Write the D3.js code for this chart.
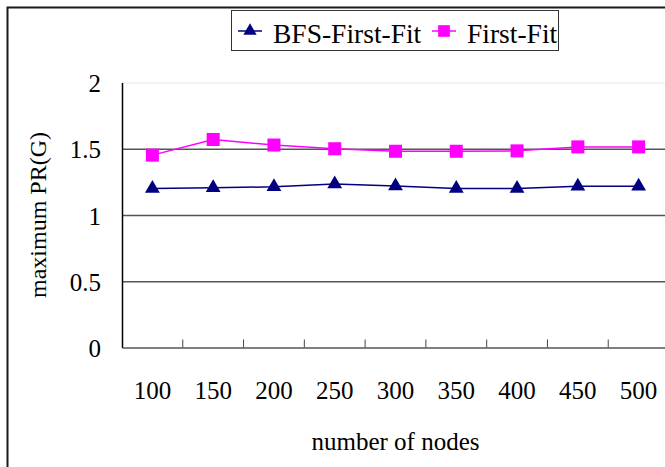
<!DOCTYPE html>
<html>
<head>
<meta charset="utf-8">
<script src="https://cdn.jsdelivr.net/npm/d3@7"></script>
<style>
  body { margin: 0; background: #fff; }
  svg text { font-family: "Liberation Serif", "Times New Roman", serif; fill: #000; }
</style>
</head>
<body>
<div id="chart"></div>
<script>
// data
var nodes = ["100", "150", "200", "250", "300", "350", "400", "450", "500"];
var bfsFirstFit = [1.20, 1.205, 1.213, 1.234, 1.219, 1.20, 1.20, 1.217, 1.217];
var firstFit = [1.452, 1.570, 1.528, 1.500, 1.481, 1.481, 1.484, 1.514, 1.514];
var yTicks = [0, 0.5, 1, 1.5, 2];

var w = 665, h = 467;
var plot = {left: 122, right: 669, top: 82.5, bottom: 347.5};

var svg = d3.select("#chart")
            .append("svg")
            .attr("width", w)
            .attr("height", h);

// outer frame (runs off the right and bottom edges)
svg.append("rect")
   .attr("x", 7.5)
   .attr("y", 7.5)
   .attr("width", 720)
   .attr("height", 520)
   .attr("fill", "#fff")
   .attr("stroke", "#1a1a1a")
   .attr("stroke-width", 2);

// scales
var xScale = d3.scaleBand()
               .domain(nodes)
               .range([plot.left, plot.right]);

var yScale = d3.scaleLinear()
               .domain([0, 2])
               .range([plot.bottom, plot.top]);

// gridlines
var grid = svg.append("g")
   .attr("transform", "translate(" + plot.left + ",0)")
   .call(d3.axisLeft(yScale)
           .tickValues(yTicks.slice(1))
           .tickSize(-(plot.right - plot.left))
           .tickFormat(""));
grid.select(".domain").remove();
grid.selectAll(".tick line")
    .attr("stroke", (d) => d === 2 ? "#e6e6e6" : "#555")
    .attr("stroke-width", (d) => d === 2 ? 1 : 1.5);

// y axis
var yAxis = svg.append("g")
   .attr("transform", "translate(" + plot.left + ",0)")
   .call(d3.axisLeft(yScale)
           .tickValues(yTicks)
           .tickSize(0)
           .tickPadding(21)
           .tickFormat(d3.format("")));
yAxis.select(".domain").attr("stroke", "#000").attr("stroke-width", 1.5);
yAxis.selectAll("text").style("font-size", "25px").attr("dy", "0.36em");

// x axis
var xAxis = svg.append("g")
   .attr("transform", "translate(0," + plot.bottom + ")")
   .call(d3.axisBottom(xScale).tickSize(0).tickPadding(34));
xAxis.select(".domain").attr("stroke", "#555").attr("stroke-width", 1.5);
xAxis.selectAll("text").style("font-size", "25px");

// category boundary ticks, pointing up into the plot
svg.append("g")
   .selectAll("line")
   .data(nodes.slice(1))
   .enter()
   .append("line")
   .attr("x1", (d) => xScale(d))
   .attr("x2", (d) => xScale(d))
   .attr("y1", plot.bottom)
   .attr("y2", plot.bottom - 8)
   .attr("stroke", "#444")
   .attr("stroke-width", 1);

// axis titles
svg.append("text")
   .attr("x", (plot.left + plot.right) / 2)
   .attr("y", 450)
   .attr("text-anchor", "middle")
   .style("font-size", "25px")
   .text("number of nodes");

svg.append("text")
   .attr("transform", "translate(46," + ((plot.top + plot.bottom) / 2) + ") rotate(-90)")
   .attr("text-anchor", "middle")
   .style("font-size", "24px")
   .text("maximum PR(G)");

// series
var series = [
  {name: "BFS-First-Fit", values: bfsFirstFit, color: "#000080", symbol: d3.symbolTriangle, size: 95},
  {name: "First-Fit", values: firstFit, color: "#ff00ff", symbol: d3.symbolSquare, size: 170}
];

var line = d3.line()
             .x((d, i) => xScale(nodes[i]) + xScale.bandwidth() / 2)
             .y((d) => yScale(d));

series.forEach(function(s) {
  svg.append("path")
     .datum(s.values)
     .attr("d", line)
     .attr("fill", "none")
     .attr("stroke", s.color)
     .attr("stroke-width", 1.5);

  svg.append("g")
     .selectAll("path")
     .data(s.values)
     .enter()
     .append("path")
     .attr("transform", (d, i) => "translate(" + (xScale(nodes[i]) + xScale.bandwidth() / 2) + "," + yScale(d) + ")")
     .attr("d", d3.symbol().type(s.symbol).size(s.size))
     .attr("fill", s.color);
});

// legend
var legend = svg.append("g");
legend.append("rect")
      .attr("x", 231.5)
      .attr("y", 10.5)
      .attr("width", 327)
      .attr("height", 40)
      .attr("fill", "#fff")
      .attr("stroke", "#333")
      .attr("stroke-width", 1);

var legendX = [238, 432];
series.forEach(function(s, i) {
  var lx = legendX[i];
  legend.append("line")
        .attr("x1", lx)
        .attr("x2", lx + 24)
        .attr("y1", 31)
        .attr("y2", 31)
        .attr("stroke", s.color)
        .attr("stroke-width", 1.5);
  legend.append("path")
        .attr("transform", "translate(" + (lx + 12) + ",31)")
        .attr("d", d3.symbol().type(s.symbol).size(s.size * 0.8))
        .attr("fill", s.color);
  legend.append("text")
        .attr("x", lx + 35)
        .attr("y", 43)
        .style("font-size", "27.5px")
        .text(s.name);
});
</script>
</body>
</html>
